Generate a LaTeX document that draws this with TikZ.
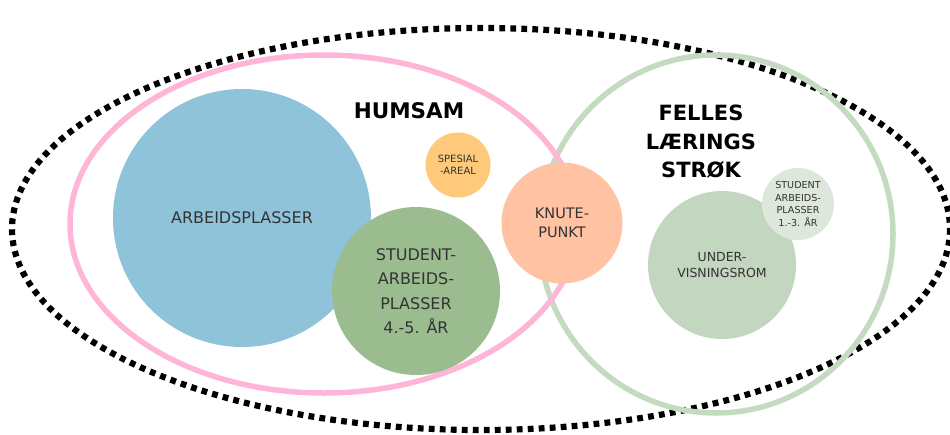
\documentclass[tikz,border=0pt]{standalone}
\usepackage{fontspec}
\setmainfont{DejaVu Sans}
\definecolor{arbblue}{HTML}{8EC3DA}
\definecolor{studgreen}{HTML}{9BBC8F}
\definecolor{spesorange}{HTML}{FFC97C}
\definecolor{knutepeach}{HTML}{FFC2A2}
\definecolor{undgreen}{HTML}{C3D6BF}
\definecolor{smallgreen}{HTML}{DDE7DB}
\definecolor{humpink}{HTML}{FFB5D5}
\definecolor{fellesgreen}{HTML}{C5DBC1}
\definecolor{textgray}{HTML}{333333}
\tikzset{
    zone/.style={circle, inner sep=0pt, align=center, text=textgray},
    title/.style={align=center, font=\bfseries\fontsize{21}{28.5}\selectfont},
}
\begin{document}
\begin{tikzpicture}[x=1pt, y=-1pt]
        \useasboundingbox (0, 0) rectangle (950, 434);

        % Outer dotted boundary
        \draw[line width=6.2pt, dash pattern=on 5.8pt off 5.2pt] (481, 229) ellipse [x radius=469, y radius=201];

        % Felles laeringsstrok and Humsam outlines
        \draw[fellesgreen, line width=5.5pt] (716, 234) ellipse [x radius=177, y radius=179];
        \draw[humpink, line width=5.5pt] (324, 224) ellipse [x radius=254, y radius=169];

        % Titles
        \node[title, font=\bfseries\fontsize{21.5}{28}\selectfont] (humsam) at (409, 111) {HUMSAM};
        \node[title] (felles) at (701, 142) {FELLES\\LÆRINGS\\STRØK};

        % Humsam areas
        \node[zone, fill=arbblue, minimum size=258pt, font=\fontsize{16}{19}\selectfont] (arbeid) at (242, 218) {ARBEIDSPLASSER};
        \node[zone, fill=studgreen, minimum size=168pt, font=\fontsize{16}{24.5}\selectfont] (student) at (416, 291) {STUDENT-\\ARBEIDS-\\PLASSER\\4.-5. ÅR};
        \node[zone, fill=spesorange, minimum size=65pt, font=\fontsize{10}{12}\selectfont] (spesial) at (458, 165) {SPESIAL\\-AREAL};

        % Shared node
        \node[zone, fill=knutepeach, minimum size=121pt, font=\fontsize{14.5}{19}\selectfont] (knute) at (562, 223) {KNUTE-\\PUNKT};

        % Felles areas
        \node[zone, fill=undgreen, minimum size=148pt, font=\fontsize{12.5}{16.5}\selectfont] (under) at (722, 265) {UNDER-\\VISNINGSROM};
        \node[zone, fill=smallgreen, minimum size=72pt, font=\fontsize{9.6}{12.5}\selectfont] (small) at (798, 204) {STUDENT\\ARBEIDS-\\PLASSER\\1.-3. ÅR};

\end{tikzpicture}
\end{document}
